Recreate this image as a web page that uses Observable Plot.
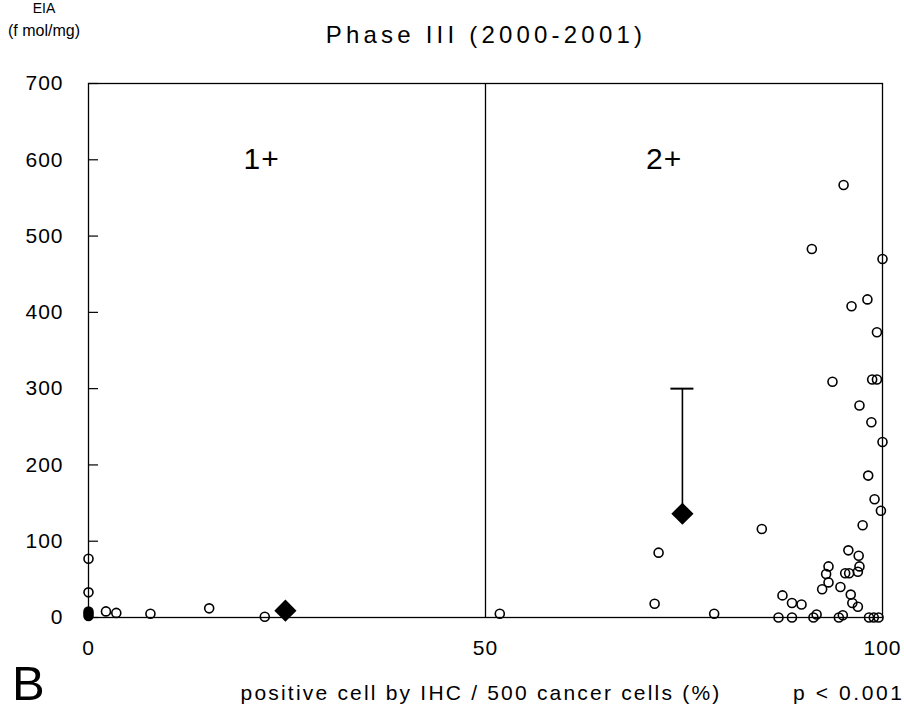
<!DOCTYPE html>
<html><head><meta charset="utf-8">
<script src="https://cdn.jsdelivr.net/npm/d3@7"></script>
<script src="https://cdn.jsdelivr.net/npm/@observablehq/plot@0.6"></script>
<style>
html,body{margin:0;padding:0;background:#fff;overflow:hidden}
#wrap{position:relative;width:904px;height:727px;font-family:"Liberation Sans",Arial,sans-serif;color:#000}
#wrap svg{position:absolute;left:0;top:0}
.t{position:absolute;white-space:nowrap;line-height:1}
</style></head><body><div id="wrap"></div>
<script>
// ---- data ----
const yTicks = [0, 100, 200, 300, 400, 500, 600, 700];
const xTicks = [0, 50, 100];

// individual cases, group 1+ (open circles)
const g1X = [0, 0, 2.2, 3.5, 7.8, 15.2, 22.2];
const g1Y = [77, 33, 8, 6, 5, 12, 1];
// overlapping cases at 0 (appear as a filled blob)
const zeroY = [2, 5, 8];

// individual cases, group 2+ (open circles)
const g2X = [51.8, 71.8, 71.3, 78.8, 84.8,
  95.1, 91.1, 100, 98.1, 96.1, 99.3, 93.7, 98.7, 99.3, 97.1, 98.6, 100, 98.2, 99.0, 99.8, 97.5,
  95.7, 97.0, 93.2, 97.1, 92.9, 95.3, 95.8, 96.9, 93.2, 92.4, 94.7, 96.0, 96.2, 96.9,
  87.4, 88.6, 89.8, 91.7, 95.0,
  86.9, 88.6, 91.3, 94.5, 98.3, 98.9, 99.5];
const g2Y = [5, 85, 18, 5, 116,
  567, 483, 470, 417, 408, 374, 309, 312, 312, 278, 256, 230, 186, 155, 140, 121,
  88, 81, 67, 67, 57, 58, 58, 60, 46, 37, 40, 30, 19, 14,
  29, 19, 17, 4, 3,
  0, 0, 0, 0, 0, 0, 0];

// group means (filled diamonds) and SD top of group 2+
const meanX = [24.8, 74.8];
const meanY = [9, 136];
const sdTopY = [null, 300];

const groupLabels = ["1+", "2+"];
const groupLabelX = [21.8, 72.5];
const groupLabelY = [600, 600];

// ---- build ----
const pts = g1X.map((x, i) => ({x, y: g1Y[i]})).concat(g2X.map((x, i) => ({x, y: g2Y[i]})));
const zero = zeroY.map(y => ({x: 0, y}));
const means = meanX.map((x, i) => ({x, y: meanY[i], sd: sdTopY[i]}));
const errs = means.filter(d => d.sd != null);
const labels = groupLabels.map((t, i) => ({t, x: groupLabelX[i], y: groupLabelY[i]}));
const CAP = 1.45;

const FONT = '"Liberation Sans", Arial, sans-serif';
const plot = Plot.plot({
  width: 904, height: 727,
  marginLeft: 88, marginRight: 22, marginTop: 83, marginBottom: 110,
  x: {domain: [0, 100]},
  y: {domain: [0, 700]},
  style: {fontFamily: FONT, fontSize: "21px", letterSpacing: "1px", background: "transparent", color: "#000", overflow: "visible"},
  marks: [
    Plot.frame({stroke: "#000", strokeWidth: 1.3}),
    Plot.ruleX([50], {stroke: "#000", strokeWidth: 1.3}),
    Plot.axisY(yTicks, {tickSize: -10, tickPadding: 35, label: null, strokeWidth: 1.2}),
    Plot.axisX(xTicks, {tickSize: 0, tickPadding: 23, label: null}),
    Plot.ruleX(errs, {x: "x", y1: "y", y2: "sd", stroke: "#000", strokeWidth: 1.6}),
    Plot.ruleY(errs, {y: "sd", x1: d => d.x - CAP, x2: d => d.x + CAP, stroke: "#000", strokeWidth: 2}),
    Plot.dot(pts, {x: "x", y: "y", r: 4.5, stroke: "#000", strokeWidth: 1.6, fill: "none"}),
    Plot.dot(zero, {x: "x", y: "y", r: 4.5, fill: "#000", stroke: "#000"}),
    Plot.dot(means, {x: "x", y: "y", symbol: "diamond2", r: 10, fill: "#000", stroke: "none"}),
    Plot.text(labels, {x: "x", y: "y", text: "t", fontSize: 30, textAnchor: "middle"})
  ]
});

const wrap = document.getElementById("wrap");
wrap.appendChild(plot);

function addText(txt, opts) {
  const d = document.createElement("div");
  d.className = "t";
  d.textContent = txt;
  Object.assign(d.style, opts);
  wrap.appendChild(d);
}
addText("EIA", {left: "44px", top: "1px", fontSize: "14px", transform: "translateX(-50%)"});
addText("(f mol/mg)", {left: "44px", top: "23px", fontSize: "16px", transform: "translateX(-50%)"});
addText("Phase III (2000-2001)", {left: "486px", top: "23px", fontSize: "24px", letterSpacing: "4.2px", transform: "translateX(-50%)"});
addText("B", {left: "12px", top: "659px", fontSize: "49px"});
addText("positive cell by IHC / 500 cancer cells (%)", {left: "481px", top: "682px", fontSize: "21px", letterSpacing: "2.2px", transform: "translateX(-50%)"});
addText("p < 0.001", {left: "793px", top: "682px", fontSize: "21px", letterSpacing: "2.6px"});
</script>
</body></html>
